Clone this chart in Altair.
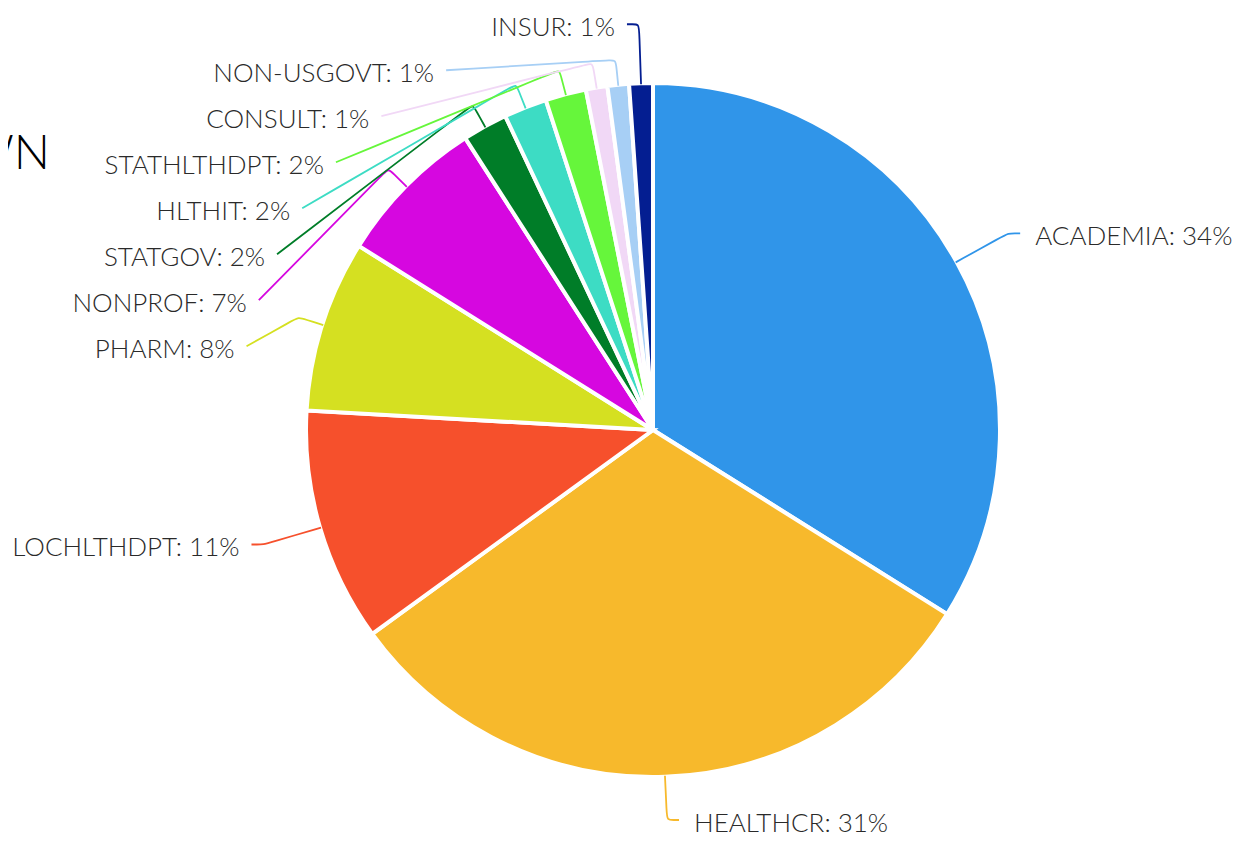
import math
import altair as alt
import pandas as pd

# ---- data ----
categories = ["ACADEMIA", "HEALTHCR", "LOCHLTHDPT", "PHARM", "NONPROF", "STATGOV",
              "HLTHIT", "STATHLTHDPT", "CONSULT", "NON-USGOVT", "INSUR"]
shares = [33.9, 31.1, 10.9, 8.0, 7.0, 2.1, 2.0, 1.9, 1.0, 1.0, 1.1]
colors = ["#3095e9", "#f7b92c", "#f6502c", "#d5e021", "#d607e0", "#007d28",
          "#3ddcc4", "#66f63b", "#f1d8f6", "#a7cff5", "#041e91"]
title_text = "BREAKDOWN"

# ---- layout constants (pixels) ----
W, H = 1232, 832
CX, CY = 645, 422
R = 345
R_ELBOW = 372
R_BEND = 406
R_LABEL = 415
TAIL = 12
GAP = 46
Y_MIN, Y_MAX = 16, 812

total = sum(shares)
mids = []
acc = 0.0
for s in shares:
    mids.append((acc + s / 2) / total * 2 * math.pi)
    acc += s


def pt(theta, r):
    return CX + r * math.sin(theta), CY - r * math.cos(theta)


items = []
for i, (c, s, th) in enumerate(zip(categories, shares, mids)):
    side = 1 if math.sin(th) >= 0 else -1
    nx, ny = pt(th, R_BEND)
    items.append(dict(i=i, cat=c, share=s, th=th, side=side, nat_x=nx, nat_y=ny))

for side in (1, -1):
    group = sorted([it for it in items if it["side"] == side], key=lambda it: it["nat_y"])
    prev = None
    for it in group:
        base = min(max(it["nat_y"], Y_MIN), Y_MAX)
        y = base if prev is None else max(base, prev + GAP)
        it["y"] = y
        it["displaced"] = prev is not None and y > base + 0.5
        prev = y


def unit(a, b):
    dx, dy = b[0] - a[0], b[1] - a[1]
    d = math.hypot(dx, dy) or 1.0
    return dx / d, dy / d


line_rows = []
text_rows = []
for it in items:
    th, side = it["th"], it["side"]
    p0 = pt(th, R + 1)
    if it["displaced"]:
        p1 = pt(th, R_ELBOW)
        ay = it["y"]
        ax = CX + side * math.sqrt(max(R_LABEL ** 2 - (ay - CY) ** 2, 0))
    else:
        p1 = (it["nat_x"], it["y"])
        ax, ay = it["nat_x"] + side * TAIL, it["y"]
    p3 = (ax, ay)
    u01 = unit(p0, p1)
    u13 = unit(p1, p3)
    pts = [p0,
           (p1[0] - 7 * u01[0], p1[1] - 7 * u01[1]),
           p1,
           (p1[0] + 7 * u13[0], p1[1] + 7 * u13[1]),
           p3]
    for k, (x, y) in enumerate(pts):
        line_rows.append(dict(category=it["cat"], seq=k, x=x, y=y))
    pct = round(it["share"] / total * 100)
    text_rows.append(dict(category=it["cat"],
                          label=f"{it['cat']}: {pct}%",
                          side="L" if side < 0 else "R",
                          x=ax + (15 if side > 0 else -12),
                          y=ay + 4))

pie_df = pd.DataFrame({"category": categories, "share": shares,
                       "order": list(range(len(categories)))})
line_df = pd.DataFrame(line_rows)
text_df = pd.DataFrame(text_rows)

color_scale = alt.Scale(domain=categories, range=colors)
xs = alt.Scale(domain=[0, W], nice=False, zero=False)
ys = alt.Scale(domain=[0, H], nice=False, zero=False, reverse=True)

pie = alt.Chart(pie_df).mark_arc(outerRadius=R + 2, stroke="white", strokeWidth=4).encode(
    theta=alt.Theta("share:Q", stack=True),
    order=alt.Order("order:Q"),
    color=alt.Color("category:N", scale=color_scale, legend=None),
    x=alt.value(CX),
    y=alt.value(CY),
)

lines = alt.Chart(line_df).mark_line(interpolate="basis", strokeWidth=1.8).encode(
    x=alt.X("x:Q", scale=xs, axis=None),
    y=alt.Y("y:Q", scale=ys, axis=None),
    color=alt.Color("category:N", scale=color_scale, legend=None),
    detail="category:N",
    order="seq:Q",
)

label_style = dict(font="Lato", fontSize=26, fontWeight=300, color="#2a2a2a",
                   baseline="middle")
text_left = alt.Chart(text_df).transform_filter(alt.datum.side == "L").mark_text(
    align="right", **label_style).encode(
    x=alt.X("x:Q", scale=xs, axis=None),
    y=alt.Y("y:Q", scale=ys, axis=None),
    text="label:N",
)
text_right = alt.Chart(text_df).transform_filter(alt.datum.side == "R").mark_text(
    align="left", **label_style).encode(
    x=alt.X("x:Q", scale=xs, axis=None),
    y=alt.Y("y:Q", scale=ys, axis=None),
    text="label:N",
)

title = alt.Chart(pd.DataFrame({"t": [title_text]})).mark_text(
    align="right", baseline="middle", font="Lato", fontSize=48, fontWeight=300,
    color="#000000").encode(text="t:N", x=alt.value(42), y=alt.value(147))

chart = alt.layer(pie, lines, text_left, text_right, title).properties(
    width=W, height=H, padding=0, autosize=alt.AutoSizeParams(type="none")
).configure_view(stroke=None)

chart.save("out.html", embed_options={"renderer": "svg", "actions": False})
